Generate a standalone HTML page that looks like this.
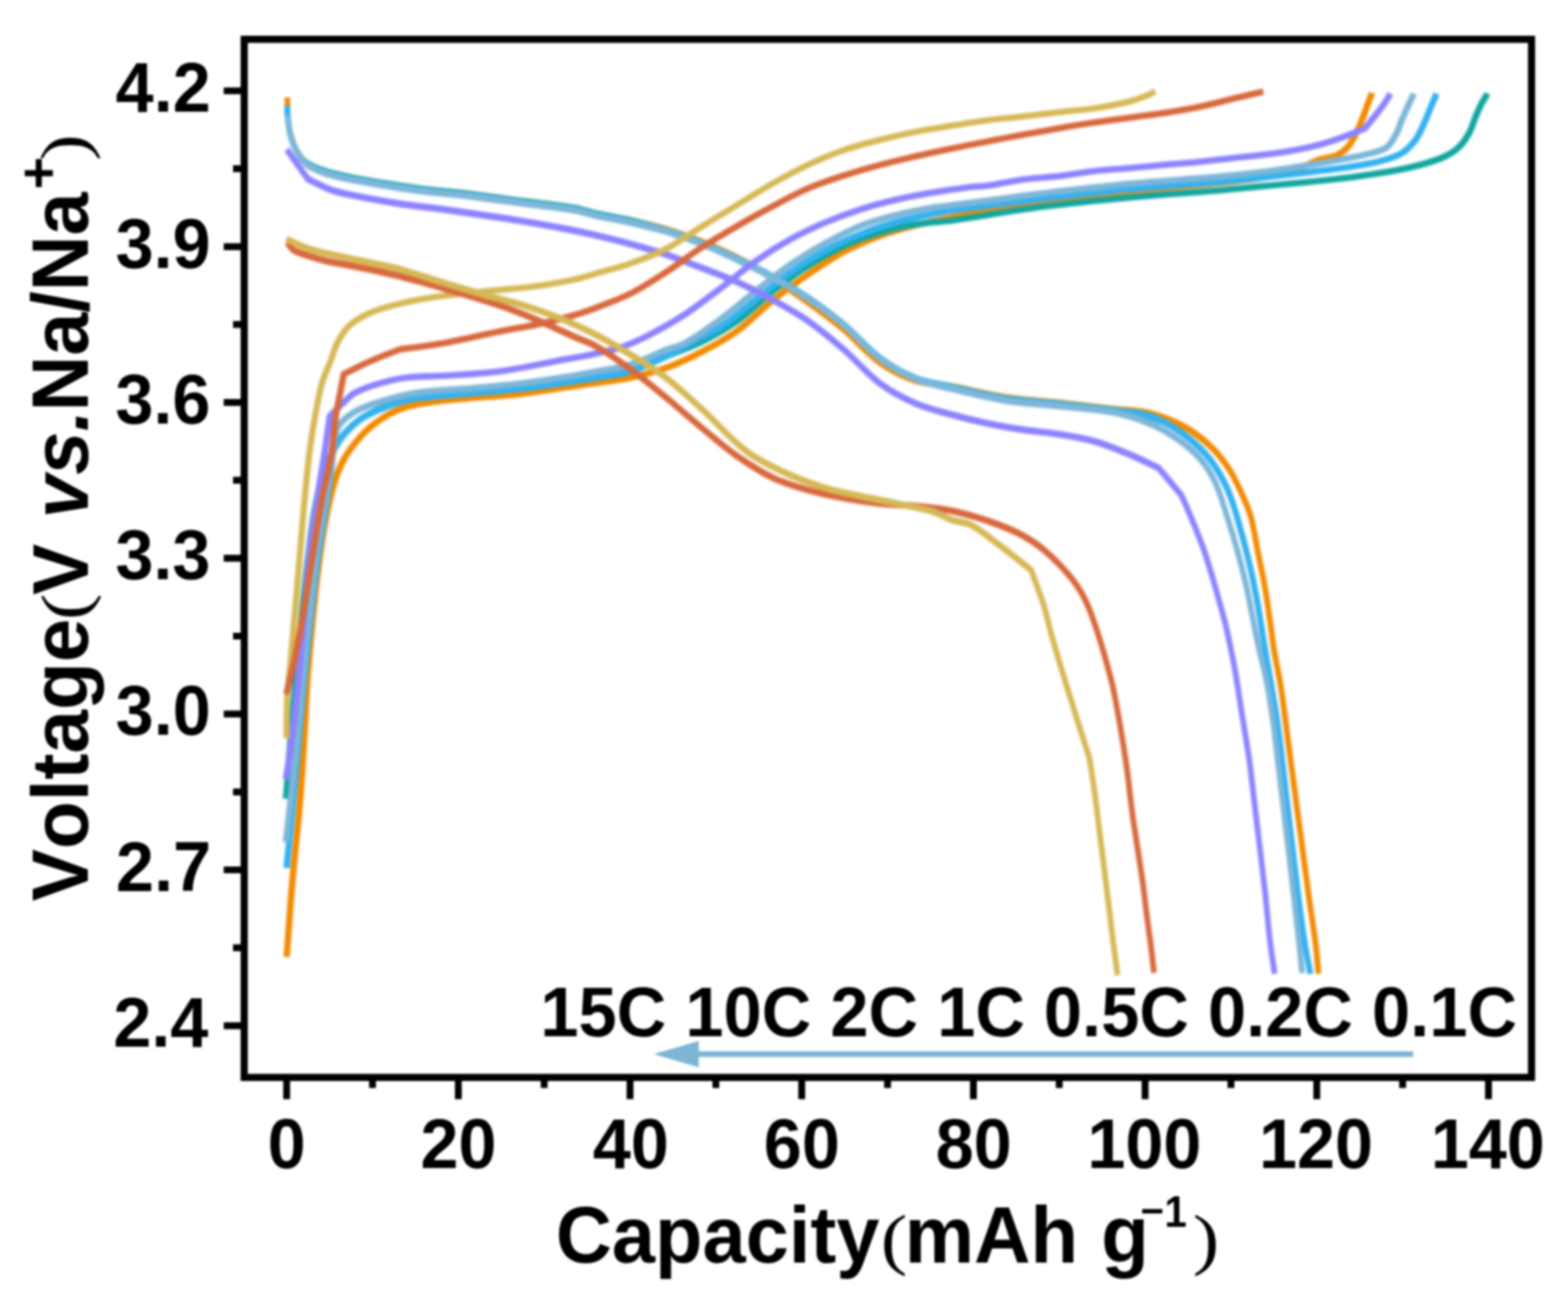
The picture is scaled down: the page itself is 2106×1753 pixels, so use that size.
<!DOCTYPE html>
<html lang="en"><head><meta charset="utf-8"><title>Rate performance: voltage vs capacity</title>
<style>
html,body{margin:0;padding:0;background:#fff;}
body{width:2106px;height:1753px;overflow:hidden;}
svg{display:block;filter:blur(1.6px);}
text{font-family:"Liberation Sans",sans-serif;font-weight:700;fill:#000;font-kerning:none;}
.it{font-style:italic;}
.pr{font-family:"Liberation Serif",serif;font-weight:400;}
.cv path{fill:none;stroke-linejoin:round;stroke-linecap:butt;}
</style></head><body>
<svg xmlns="http://www.w3.org/2000/svg" width="2106" height="1753" viewBox="0 0 2106 1753">
<rect x="0" y="0" width="2106" height="1753" fill="#fff"/>
<g class="cv" stroke-width="8.6" style="filter:blur(0.90px)">
<path transform="scale(1 1.2105)" d="M386.0 108.2C386.2 114.8 385.9 121.5 386.5 128.0C387.1 134.4 387.9 140.9 389.5 147.0C390.7 151.9 393.2 156.4 395.0 161.1C395.2 161.7 395.1 162.4 395.5 163.0C398.7 167.6 401.7 172.7 405.8 176.6C409.0 179.6 413.1 181.9 417.2 183.6C424.5 186.7 432.3 189.1 440.0 191.0C451.3 193.8 462.9 195.7 474.4 197.6C489.5 200.1 504.8 202.2 520.0 204.2C535.3 206.3 550.6 208.3 566.0 209.9C587.1 212.1 608.4 213.4 629.5 215.5C653.4 217.9 677.2 220.8 701.0 223.4C724.8 226.0 748.7 227.9 772.4 231.2C781.7 232.5 790.7 235.5 800.0 237.2C815.8 240.1 831.8 242.1 847.6 245.0C863.5 248.0 879.5 251.0 895.2 254.8C911.3 258.8 927.2 263.5 942.9 268.6C959.0 273.9 974.9 279.7 990.5 286.3C1006.6 293.1 1022.5 300.7 1038.0 308.8C1054.2 317.2 1070.0 326.3 1085.7 335.7C1101.8 345.3 1117.9 355.0 1133.3 365.6C1149.7 377.0 1164.0 391.7 1181.0 401.7C1195.7 410.5 1212.1 417.4 1228.6 422.0C1243.9 426.3 1260.4 426.1 1276.2 428.6C1301.3 432.5 1326.2 438.0 1351.4 441.2C1375.1 444.2 1399.1 445.0 1422.9 447.2C1446.7 449.3 1470.5 451.8 1494.3 454.0C1510.2 455.5 1526.4 455.2 1542.0 458.3C1558.2 461.6 1574.4 466.5 1589.5 473.1C1602.2 478.6 1614.2 486.4 1625.2 494.7C1634.0 501.4 1641.9 509.7 1649.0 518.3C1655.4 526.1 1660.7 535.0 1665.7 543.9C1671.0 553.4 1676.5 563.1 1680.0 573.3C1684.4 586.0 1686.3 599.6 1689.5 612.7C1692.7 625.8 1696.2 638.8 1699.0 652.0C1701.8 665.1 1703.9 678.3 1706.2 691.4C1707.9 701.1 1709.1 710.8 1711.0 720.3C1713.8 734.6 1717.8 748.6 1720.5 762.8C1724.2 782.4 1726.8 802.2 1730.0 821.9C1733.2 841.5 1736.3 861.2 1739.5 880.9C1742.7 900.5 1745.8 920.2 1749.0 939.8C1752.2 959.5 1755.3 979.1 1758.6 998.7C1761.3 1015.0 1764.5 1031.2 1767.0 1047.5C1768.7 1058.4 1769.7 1069.5 1771.0 1080.5" stroke="#f28a00" stroke-width="7.6"/>
<path d="M385.0 1285.5C387.6 1250.8 389.9 1216.0 392.9 1181.3C395.8 1147.7 399.9 1114.2 402.6 1080.6C405.1 1050.4 406.8 1020.2 408.7 990.0C410.3 964.1 411.2 938.1 413.0 912.2C414.8 887.0 417.1 861.8 419.6 836.7C422.0 811.5 424.5 786.4 427.8 761.3C430.5 740.3 433.4 719.2 437.4 698.4C440.6 681.5 444.2 664.4 449.2 648.0C452.6 636.7 457.1 625.6 462.8 615.3C467.7 606.3 474.4 598.1 481.0 590.2C486.3 583.9 492.2 577.9 498.6 572.7C506.0 566.7 514.0 561.2 522.4 556.6C529.9 552.5 538.0 548.9 546.2 546.5C557.8 543.2 570.0 541.4 582.0 539.7C597.7 537.5 613.7 536.4 629.5 535.0C653.3 532.8 677.3 531.7 701.0 528.9C724.9 526.1 748.6 521.9 772.4 518.4C781.6 517.1 790.8 515.9 800.0 514.5C815.9 512.1 831.9 510.6 847.6 507.2C863.7 503.7 879.8 499.6 895.2 494.0C911.5 488.0 927.5 480.5 942.9 472.4C959.2 463.8 975.6 455.0 990.5 444.2C1007.3 431.9 1021.7 416.3 1038.0 403.2C1053.4 390.9 1069.4 379.3 1085.7 368.2C1101.2 357.6 1116.8 346.9 1133.3 338.1C1148.6 329.9 1164.7 323.1 1181.0 317.1C1196.5 311.4 1212.6 307.1 1228.6 302.9C1244.3 298.8 1260.3 295.6 1276.2 292.1C1284.1 290.4 1292.0 288.8 1300.0 287.4C1333.0 281.5 1365.8 274.6 1399.0 270.0C1438.5 264.5 1478.3 261.0 1518.0 257.0C1557.6 253.0 1597.4 250.1 1637.0 246.0C1658.1 243.8 1679.2 241.6 1700.0 238.0C1713.5 235.6 1727.0 232.3 1740.0 228.0C1751.1 224.4 1761.4 218.2 1772.4 214.3C1779.8 211.7 1788.2 211.8 1795.2 208.6C1800.9 206.0 1806.4 201.8 1810.5 197.1C1815.3 191.6 1818.6 184.7 1821.9 178.1C1825.6 170.7 1828.4 162.9 1831.4 155.2C1833.4 150.2 1835.1 145.1 1837.0 140.0C1838.9 134.9 1840.9 129.9 1842.9 124.8" stroke="#f28a00"/>
<path transform="scale(1 1.2105)" d="M386.0 117.3C386.1 121.2 385.9 125.0 386.4 128.9C387.1 135.2 388.0 141.7 389.6 147.9C391.0 153.1 392.9 158.3 395.5 163.0C398.3 167.9 401.7 172.7 405.8 176.6C409.0 179.6 413.1 181.9 417.2 183.6C424.5 186.7 432.3 189.1 440.0 191.0C451.3 193.8 462.9 195.7 474.4 197.6C489.5 200.1 504.8 202.2 520.0 204.2C535.3 206.3 550.6 208.3 566.0 209.9C587.1 212.1 608.4 213.4 629.5 215.5C653.4 217.9 677.2 220.8 701.0 223.4C724.8 226.0 748.7 227.9 772.4 231.2C781.7 232.5 790.7 235.5 800.0 237.2C815.8 240.1 831.8 241.9 847.6 245.0C863.6 248.2 879.5 251.9 895.2 256.0C911.2 260.1 927.2 264.7 942.9 269.9C959.0 275.2 974.7 281.4 990.5 287.6C1006.4 293.8 1022.4 300.1 1038.0 307.2C1054.1 314.6 1070.2 322.2 1085.7 330.8C1102.0 339.9 1118.0 349.6 1133.3 360.2C1149.8 371.6 1164.1 386.3 1181.0 396.8C1195.8 406.1 1212.1 413.8 1228.6 419.5C1243.8 424.7 1260.3 426.3 1276.2 429.3C1301.2 433.9 1326.2 439.2 1351.4 442.5C1375.1 445.5 1399.1 446.3 1422.9 448.4C1446.7 450.5 1470.5 452.6 1494.3 455.3C1510.2 457.0 1526.5 458.0 1542.0 461.7C1554.3 464.6 1566.4 469.2 1577.6 475.0C1590.2 481.5 1602.4 489.6 1613.3 498.6C1622.2 506.0 1630.2 514.9 1637.0 524.2C1643.7 533.3 1649.2 543.4 1653.8 553.7C1659.5 566.4 1663.6 579.8 1668.0 593.0C1672.3 606.0 1676.4 619.2 1680.0 632.4C1683.6 645.3 1686.7 658.5 1689.5 671.6C1693.0 687.8 1695.7 704.1 1699.0 720.3C1704.5 747.6 1711.0 774.7 1715.7 802.1C1721.3 834.8 1725.2 867.7 1730.0 900.4C1734.8 933.2 1739.3 966.0 1744.3 998.7C1746.8 1015.0 1749.5 1031.3 1752.6 1047.5C1754.7 1058.6 1757.5 1069.5 1760.0 1080.5" stroke="#12a5a0" stroke-width="7.6"/>
<path d="M384.2 1073.0C386.0 1048.7 387.8 1024.3 389.7 1000.0C392.0 971.7 394.4 943.3 397.0 915.0C399.2 890.0 401.6 865.0 404.2 840.0C406.9 813.3 409.5 786.6 412.6 760.0C415.4 736.6 417.9 713.2 421.8 690.0C424.7 673.2 427.9 656.2 433.0 640.0C436.9 627.6 442.6 615.6 448.6 604.1C452.6 596.5 457.2 589.1 462.9 582.7C469.9 574.8 477.8 567.0 486.7 561.2C497.7 554.1 510.1 548.6 522.4 543.9C533.9 539.5 545.9 535.9 558.0 534.0C581.6 530.4 605.6 529.3 629.5 527.3C653.3 525.3 677.2 524.4 701.0 521.9C724.9 519.3 748.6 515.5 772.4 512.1C781.6 510.8 790.8 509.4 800.0 507.8C815.9 505.0 832.3 503.5 847.6 498.8C864.0 493.7 879.3 485.2 895.2 478.5C911.1 471.8 927.5 466.4 942.9 458.8C959.3 450.7 975.6 441.7 990.5 431.1C1007.3 419.2 1021.7 403.8 1038.0 391.0C1053.4 379.0 1069.2 367.4 1085.7 356.9C1101.0 347.1 1116.9 337.9 1133.3 330.3C1148.6 323.1 1164.8 317.5 1181.0 312.6C1196.6 307.9 1212.6 304.3 1228.6 301.6C1245.6 298.7 1262.9 298.3 1280.0 295.9C1319.7 290.4 1359.2 282.9 1399.0 277.8C1438.6 272.7 1478.3 268.9 1518.0 265.2C1557.6 261.5 1597.4 259.1 1637.0 255.7C1658.0 253.9 1679.0 251.7 1700.0 249.7C1719.0 247.9 1738.0 246.4 1757.0 244.5C1776.1 242.6 1795.2 240.7 1814.3 238.2C1833.4 235.7 1852.5 233.0 1871.4 229.6C1884.2 227.3 1897.0 224.5 1909.5 221.0C1919.8 218.1 1930.4 215.1 1940.0 210.5C1947.2 207.1 1954.3 202.6 1960.0 197.1C1965.5 191.8 1969.8 184.9 1973.5 178.1C1977.4 170.9 1979.3 162.7 1982.5 155.2C1985.0 149.4 1987.6 143.7 1990.5 138.1C1992.8 133.8 1995.5 129.8 1998.0 125.7" stroke="#12a5a0"/>
<path transform="scale(1 1.2105)" d="M386.0 117.3C386.1 121.2 385.9 125.0 386.4 128.9C387.1 135.2 388.0 141.7 389.6 147.9C391.0 153.1 392.9 158.3 395.5 163.0C398.3 168.0 401.7 173.1 405.8 177.1C409.0 180.3 413.1 182.9 417.2 184.7C424.5 187.9 432.2 190.3 440.0 192.2C451.3 195.0 462.9 196.9 474.4 198.8C489.5 201.3 504.8 203.4 520.0 205.4C535.3 207.5 550.6 209.6 566.0 211.1C587.1 213.3 608.4 214.7 629.5 216.8C653.4 219.1 677.2 222.0 701.0 224.6C724.8 227.2 748.7 229.2 772.4 232.5C781.7 233.8 790.7 236.7 800.0 238.4C815.8 241.3 831.8 243.3 847.6 246.3C863.5 249.2 879.5 252.2 895.2 256.1C911.3 260.1 927.2 264.7 942.9 269.9C959.0 275.2 974.7 281.4 990.5 287.6C1006.4 293.8 1022.4 300.1 1038.0 307.2C1054.1 314.6 1070.2 322.2 1085.7 330.8C1102.0 339.9 1118.0 349.6 1133.3 360.2C1149.8 371.6 1164.1 386.3 1181.0 396.8C1195.8 406.1 1212.1 413.9 1228.6 419.5C1243.8 424.6 1260.3 426.1 1276.2 429.1C1301.2 433.8 1326.2 439.1 1351.4 442.5C1375.1 445.6 1399.1 446.3 1422.9 448.4C1446.7 450.5 1470.5 452.7 1494.3 455.3C1510.2 456.9 1526.5 457.3 1542.0 461.0C1554.3 463.9 1566.4 469.1 1577.6 475.0C1590.1 481.6 1602.4 489.6 1613.3 498.6C1622.2 506.0 1630.2 514.9 1637.0 524.2C1643.7 533.3 1649.2 543.4 1653.8 553.7C1659.5 566.4 1663.6 579.8 1668.0 593.0C1672.3 606.0 1676.4 619.2 1680.0 632.4C1683.6 645.3 1686.7 658.5 1689.5 671.6C1693.0 687.8 1695.7 704.1 1699.0 720.3C1704.5 747.6 1711.0 774.7 1715.7 802.1C1721.3 834.8 1725.2 867.7 1730.0 900.4C1734.8 933.2 1739.3 966.0 1744.3 998.7C1746.8 1015.0 1749.5 1031.3 1752.6 1047.5C1754.7 1058.6 1757.5 1069.5 1760.0 1080.5" stroke="#33b1f2" stroke-width="7.6"/>
<path d="M384.8 1166.0C387.7 1137.3 390.8 1108.7 393.5 1080.0C396.4 1050.0 398.8 1020.0 401.5 990.0C403.9 963.3 406.2 936.6 408.8 910.0C411.5 883.3 414.3 856.6 417.2 830.0C420.2 803.3 423.1 776.6 426.7 750.0C429.9 726.6 434.0 703.3 437.6 680.0C440.1 663.3 442.6 646.7 445.0 630.0C446.3 621.2 445.6 611.7 448.6 603.6C451.5 595.8 457.2 588.5 462.9 582.2C469.9 574.5 477.9 567.1 486.7 561.7C497.7 554.8 510.1 549.7 522.4 545.2C533.9 541.0 545.9 537.5 558.0 535.6C581.6 532.0 605.7 530.9 629.5 528.6C653.3 526.4 677.2 524.9 701.0 522.1C724.9 519.3 748.6 515.4 772.4 511.8C781.6 510.4 790.8 508.9 800.0 507.3C815.9 504.4 832.3 503.0 847.6 498.3C864.0 493.2 879.7 485.4 895.2 478.0C908.2 471.8 920.5 464.1 933.3 457.3C944.3 451.5 956.4 447.3 966.7 440.4C983.4 429.3 998.4 415.6 1014.3 403.1C1030.2 390.7 1045.4 377.5 1061.9 365.9C1077.2 355.1 1093.1 345.1 1109.5 336.2C1124.8 327.8 1140.8 320.4 1157.0 313.9C1172.6 307.6 1188.6 302.5 1204.8 298.0C1220.4 293.7 1236.5 290.8 1252.4 287.5C1261.6 285.6 1270.7 283.9 1280.0 282.6C1319.6 277.1 1359.3 271.9 1399.0 267.1C1438.6 262.3 1478.3 257.8 1518.0 254.0C1557.6 250.2 1597.4 248.0 1637.0 244.5C1658.0 242.7 1679.0 240.4 1700.0 238.1C1719.0 236.0 1738.0 233.8 1757.0 231.4C1776.1 229.0 1795.3 226.8 1814.3 223.9C1827.1 221.9 1839.9 220.0 1852.4 216.8C1862.2 214.3 1872.4 211.7 1881.0 206.8C1888.3 202.6 1894.7 196.1 1900.0 189.5C1904.9 183.4 1908.0 175.7 1911.4 168.6C1915.0 161.1 1917.8 153.3 1921.0 145.7C1923.8 139.0 1926.7 132.4 1929.5 125.7" stroke="#33b1f2"/>
<path transform="scale(1 1.2105)" d="M386.3 128.0C387.4 134.9 387.9 142.0 389.7 148.7C391.0 153.6 393.0 158.5 395.5 163.0C398.4 168.1 401.7 173.3 405.8 177.5C409.0 180.8 413.0 183.5 417.2 185.4C424.4 188.7 432.2 191.1 440.0 193.1C451.3 195.9 462.9 197.8 474.4 199.7C489.5 202.2 504.8 204.2 520.0 206.3C535.3 208.3 550.6 210.4 566.0 212.0C587.1 214.2 608.4 215.5 629.5 217.6C653.4 220.0 677.2 222.8 701.0 225.4C724.8 228.1 748.7 230.0 772.4 233.3C781.7 234.6 790.7 237.5 800.0 239.2C815.8 242.1 831.8 244.1 847.6 247.1C863.5 250.0 879.5 253.0 895.2 256.9C911.3 260.9 927.2 265.5 942.9 270.7C959.0 276.0 974.7 282.2 990.5 288.4C1006.4 294.6 1022.4 301.0 1038.0 308.0C1054.1 315.4 1070.2 323.1 1085.7 331.7C1102.0 340.7 1118.0 350.4 1133.3 361.0C1149.8 372.4 1164.1 387.1 1181.0 397.7C1195.8 406.9 1212.1 414.5 1228.6 420.3C1243.9 425.6 1260.3 427.8 1276.2 430.9C1301.2 435.8 1326.2 441.2 1351.4 444.5C1375.1 447.7 1399.1 448.3 1422.9 450.5C1446.7 452.6 1470.7 453.6 1494.3 457.3C1510.4 459.9 1526.5 464.0 1542.0 469.1C1554.3 473.2 1566.3 478.6 1577.6 484.9C1588.7 491.1 1599.8 497.9 1609.1 506.4C1617.8 514.3 1625.6 523.9 1631.5 534.1C1638.6 546.2 1643.0 560.1 1648.2 573.3C1653.3 586.3 1658.1 599.5 1662.5 612.7C1666.8 625.7 1670.8 638.8 1674.4 652.0C1677.9 665.1 1680.7 678.3 1683.9 691.4C1686.2 701.1 1688.4 710.8 1691.0 720.3C1693.9 731.3 1697.9 742.0 1700.5 753.0C1704.3 769.2 1707.3 785.7 1710.1 802.1C1712.9 818.5 1714.8 835.0 1717.2 851.4C1719.6 867.7 1722.0 884.1 1724.4 900.4C1726.8 916.8 1729.2 933.3 1731.5 949.7C1733.8 966.0 1736.1 982.4 1738.4 998.7C1740.6 1015.0 1742.7 1031.2 1744.9 1047.5C1746.3 1058.2 1747.7 1069.0 1749.0 1079.7" stroke="#7db6d8" stroke-width="7.6"/>
<path d="M384.0 1131.0C386.7 1107.3 389.5 1083.7 392.1 1060.0C395.0 1033.3 397.7 1006.7 400.3 980.0C402.9 953.3 405.0 926.6 407.6 900.0C410.3 873.3 413.3 846.7 416.3 820.0C419.3 793.3 422.0 766.6 425.8 740.0C429.1 716.6 433.6 693.3 437.4 670.0C440.7 650.0 443.7 630.0 447.0 610.0C449.0 598.3 448.3 585.1 453.3 575.0C457.5 566.5 466.5 559.3 474.8 554.1C485.5 547.5 498.3 543.5 510.5 539.6C526.0 534.7 541.9 530.4 558.0 527.9C581.6 524.4 605.7 523.9 629.5 521.8C653.3 519.6 677.2 517.9 701.0 515.0C724.9 512.1 748.6 508.1 772.4 504.4C781.6 502.9 790.8 501.0 800.0 499.2C815.9 496.1 832.2 494.4 847.6 489.7C863.9 484.6 879.2 476.1 895.2 469.8C903.0 466.7 911.7 465.7 919.0 461.6C935.6 452.3 951.3 441.0 966.7 429.7C983.1 417.7 998.3 404.2 1014.3 391.7C1030.0 379.4 1045.5 366.6 1061.9 355.3C1077.2 344.8 1093.2 335.2 1109.5 326.2C1124.9 317.7 1140.7 309.4 1157.0 302.9C1172.4 296.8 1188.7 292.6 1204.8 288.6C1220.5 284.7 1236.5 281.8 1252.4 279.0C1261.5 277.4 1270.8 276.7 1280.0 275.5C1319.7 270.4 1359.3 264.8 1399.0 260.0C1438.6 255.2 1478.3 250.7 1518.0 246.9C1557.6 243.1 1597.4 241.0 1637.0 237.4C1658.0 235.5 1679.1 233.2 1700.0 230.5C1719.1 228.0 1738.0 224.9 1757.0 221.9C1769.8 219.9 1782.5 217.7 1795.2 215.3C1807.9 213.0 1820.8 211.0 1833.3 207.8C1843.0 205.3 1853.9 203.6 1861.9 198.3C1867.9 194.4 1871.5 186.6 1875.2 180.2C1878.5 174.2 1880.2 167.4 1882.9 161.0C1885.3 155.2 1887.9 149.5 1890.5 143.8C1893.3 137.7 1896.2 131.7 1899.0 125.7" stroke="#7db6d8"/>
<path transform="scale(1 1.2105)" d="M385.2 165.8C389.8 171.1 394.3 176.5 398.9 181.8C403.8 187.5 408.8 193.2 413.8 198.8C424.5 202.9 434.9 207.9 445.8 211.1C455.1 213.9 464.8 215.3 474.4 216.8C493.4 220.0 512.5 222.9 531.6 225.4C554.3 228.3 577.2 230.3 600.0 232.9C609.8 234.0 619.7 235.2 629.5 236.4C653.3 239.4 677.2 242.1 701.0 245.3C720.9 247.9 740.7 250.9 760.5 254.1C773.7 256.2 786.9 258.5 800.0 261.0C815.9 264.1 831.8 267.3 847.6 270.9C863.5 274.5 879.5 278.2 895.2 282.6C911.2 287.1 927.0 292.3 942.9 297.4C958.8 302.5 974.9 307.3 990.5 313.1C1006.6 319.1 1022.4 325.7 1038.0 332.8C1054.1 340.2 1070.4 347.5 1085.7 356.4C1102.1 365.9 1117.9 376.8 1133.3 387.8C1149.6 399.6 1164.0 414.3 1181.0 424.9C1195.8 434.1 1212.2 441.3 1228.6 447.3C1243.9 452.9 1260.2 456.1 1276.2 459.7C1293.2 463.6 1310.4 467.0 1327.6 470.0C1343.4 472.8 1359.3 475.0 1375.2 477.0C1391.1 479.0 1407.1 479.8 1422.9 481.9C1438.8 484.1 1454.9 486.1 1470.5 489.8C1486.6 493.6 1502.3 499.2 1518.0 504.6C1530.9 509.0 1543.5 514.4 1556.2 519.3C1566.5 529.4 1576.7 539.6 1587.0 549.8C1591.8 559.0 1596.8 568.0 1601.4 577.4C1607.2 589.0 1613.0 600.7 1618.0 612.7C1623.3 625.6 1627.8 638.9 1632.4 652.0C1636.5 663.8 1640.5 675.6 1644.3 687.5C1646.0 692.9 1647.6 698.3 1649.0 703.8C1652.4 716.9 1655.8 730.0 1658.6 743.1C1662.1 759.4 1664.8 775.9 1668.0 792.2C1671.2 808.7 1674.8 825.0 1677.6 841.5C1680.4 857.9 1682.4 874.3 1684.8 890.7C1687.2 907.1 1689.6 923.5 1692.0 939.8C1694.4 956.2 1696.8 972.6 1699.0 989.0C1701.6 1008.5 1703.4 1028.0 1706.2 1047.5C1707.8 1058.5 1710.1 1069.5 1712.0 1080.5" stroke="#8c82ff" stroke-width="7.6"/>
<path d="M384.0 1047.0C386.7 1028.9 389.7 1010.8 392.0 992.6C395.4 965.8 398.3 938.9 401.0 912.0C403.5 886.9 405.7 861.8 407.8 836.7C410.3 807.4 411.7 777.9 414.9 748.7C417.6 723.4 421.8 698.2 425.6 673.0C428.8 652.0 432.5 631.0 435.7 610.0C438.3 593.0 440.6 576.0 443.0 559.0C449.6 552.4 456.1 545.6 462.9 539.3C467.4 535.1 471.6 530.2 477.0 527.4C487.5 522.0 499.1 518.2 510.5 514.9C522.2 511.5 534.1 508.6 546.2 507.2C565.9 505.1 585.9 505.7 605.7 504.3C629.5 502.6 653.4 501.1 677.0 497.9C701.0 494.6 724.7 489.1 748.6 484.7C765.1 481.6 781.6 479.0 798.0 475.5C810.7 472.8 823.5 470.3 835.7 466.1C848.0 461.9 859.9 456.3 871.4 450.3C887.6 441.9 903.7 432.9 919.0 422.9C935.4 412.2 951.0 400.0 966.7 388.1C982.7 376.1 997.9 362.8 1014.3 351.3C1029.6 340.5 1045.5 330.4 1061.9 321.3C1077.3 312.8 1093.3 305.3 1109.5 298.4C1125.0 291.8 1140.9 285.9 1157.0 280.8C1172.7 275.8 1188.7 271.7 1204.8 268.0C1220.5 264.3 1236.5 261.5 1252.4 258.8C1268.2 256.1 1284.1 253.7 1300.0 251.7C1309.2 250.5 1318.5 250.6 1327.6 249.3C1343.5 247.0 1359.3 243.1 1375.2 241.0C1391.0 238.9 1407.0 238.3 1422.9 236.5C1438.8 234.6 1454.6 231.6 1470.5 229.8C1486.3 228.0 1502.2 227.1 1518.0 225.7C1533.9 224.3 1549.8 222.7 1565.7 221.3C1581.6 219.9 1597.5 218.8 1613.3 217.2C1629.2 215.6 1645.1 213.5 1661.0 211.7C1674.0 210.3 1687.0 209.3 1700.0 207.6C1712.7 206.0 1725.4 204.3 1738.0 201.9C1750.8 199.5 1763.6 196.7 1776.2 193.3C1785.9 190.7 1795.4 187.3 1804.8 183.8C1814.4 180.3 1823.8 176.2 1833.3 172.4C1838.4 166.0 1843.6 159.7 1848.6 153.3C1852.5 148.3 1856.4 143.3 1860.0 138.1C1862.7 134.1 1865.1 129.8 1867.6 125.7" stroke="#8c82ff"/>
<path d="M384.8 991.5C385.1 973.5 384.8 955.4 385.8 937.4C386.7 920.6 388.9 903.8 390.4 887.0C393.4 853.5 396.4 819.9 399.3 786.4C402.2 752.9 404.6 719.3 407.7 685.8C410.0 660.5 412.3 635.2 415.4 610.0C417.3 594.3 419.8 578.6 422.5 563.0C425.4 547.1 427.9 531.0 432.2 515.5C435.1 505.0 440.1 495.2 444.0 485.0C446.9 477.2 449.1 469.1 452.6 461.6C455.4 455.6 459.0 449.8 463.0 444.5C466.3 440.2 470.0 436.1 474.4 433.0C481.5 428.0 489.3 423.5 497.3 420.2C508.3 415.6 520.0 412.3 531.6 409.3C542.9 406.2 554.5 403.9 566.0 401.8C577.3 399.8 588.6 398.3 600.0 396.9C617.7 394.7 635.5 392.9 653.3 391.1C677.1 388.6 701.1 386.9 724.8 383.8C740.8 381.6 756.6 378.5 772.4 375.2C781.7 373.2 790.8 370.3 800.0 367.7C815.9 363.1 832.0 359.1 847.6 353.6C863.8 347.9 880.0 341.9 895.2 334.0C911.8 325.4 926.9 314.0 942.9 304.1C958.7 294.3 974.6 284.7 990.5 275.0C1006.3 265.5 1021.9 255.5 1038.0 246.4C1053.6 237.6 1069.5 229.0 1085.7 221.3C1101.2 214.0 1117.1 207.2 1133.3 201.6C1148.9 196.2 1165.0 192.1 1181.0 188.1C1196.8 184.1 1212.7 180.5 1228.6 177.3C1244.4 174.2 1260.3 171.8 1276.2 169.2C1293.3 166.4 1310.4 163.5 1327.6 161.3C1343.4 159.2 1359.3 158.1 1375.2 156.3C1391.1 154.6 1407.0 152.5 1422.9 150.7C1438.8 148.9 1454.7 147.9 1470.5 145.5C1486.4 143.0 1502.4 140.0 1518.0 136.1C1526.2 134.0 1534.2 130.8 1542.0 127.6C1545.3 126.3 1548.3 124.2 1551.4 122.5" stroke="#d6b856" stroke-width="8.3"/>
<path d="M384.6 932.5C388.2 917.3 392.2 902.3 395.4 887.0C399.8 866.1 403.6 845.1 407.3 824.0C411.7 799.0 415.3 773.8 419.4 748.7C423.5 723.5 427.2 698.3 431.9 673.2C435.8 652.1 441.8 631.4 445.3 610.3C448.1 593.7 448.4 576.7 450.8 560.0C452.3 549.1 454.9 538.3 457.0 527.4C458.6 519.1 460.1 510.7 461.7 502.4C474.0 496.5 486.1 490.1 498.6 484.6C511.5 479.0 524.9 474.3 538.0 469.1C547.3 467.9 556.7 466.8 566.0 465.5C577.4 463.8 588.7 462.4 600.0 460.2C625.7 455.3 651.3 449.2 677.0 444.0C692.9 440.9 709.0 438.7 724.8 435.2C740.8 431.7 756.7 427.5 772.4 423.0C781.7 420.3 790.9 417.1 800.0 413.7C816.0 407.5 832.3 401.8 847.6 394.0C864.1 385.6 879.7 375.3 895.2 365.2C911.4 354.6 926.6 342.5 942.9 332.0C958.4 321.9 974.5 312.7 990.5 303.5C1006.2 294.4 1022.0 285.5 1038.0 277.0C1053.7 268.6 1069.4 259.9 1085.7 252.9C1101.1 246.2 1117.3 241.0 1133.3 235.8C1149.0 230.7 1165.0 226.1 1181.0 221.9C1196.8 217.6 1212.7 214.0 1228.6 210.3C1244.4 206.7 1260.3 203.3 1276.2 200.0C1293.3 196.4 1310.5 193.1 1327.6 189.8C1343.5 186.7 1359.3 183.6 1375.2 180.7C1391.1 177.8 1407.0 174.9 1422.9 172.2C1438.7 169.5 1454.6 166.9 1470.5 164.6C1486.3 162.2 1502.2 160.2 1518.0 158.0C1533.9 155.8 1549.8 153.9 1565.7 151.5C1581.6 149.0 1597.5 146.4 1613.3 143.0C1629.3 139.7 1645.1 135.2 1661.0 131.4C1672.9 128.6 1684.8 125.9 1696.7 123.1" stroke="#d7683c"/>
<path transform="scale(1 1.2105)" d="M385.5 268.9C388.4 271.7 390.8 275.5 394.3 277.4C399.5 280.3 405.7 281.7 411.5 283.3C420.9 285.9 430.4 288.2 440.0 290.0C451.4 292.2 463.0 293.3 474.4 295.3C493.5 298.5 512.6 301.6 531.6 305.5C554.5 310.2 577.3 315.5 600.0 320.9C625.7 327.2 651.5 333.4 677.0 340.7C693.1 345.3 709.0 350.8 724.8 356.4C740.8 362.0 756.5 368.3 772.4 374.1C781.6 377.5 791.2 379.9 800.0 384.1C816.3 391.9 832.1 400.8 847.6 410.2C863.9 420.0 879.5 430.9 895.2 441.6C911.2 452.5 926.9 464.1 942.9 475.0C958.6 485.7 974.1 496.9 990.5 506.4C1005.8 515.2 1021.6 523.6 1038.0 530.1C1053.3 536.1 1069.6 540.1 1085.7 543.9C1101.4 547.6 1117.4 550.2 1133.3 552.7C1149.1 555.1 1165.1 557.1 1181.0 558.6C1196.8 560.1 1212.8 560.3 1228.6 561.6C1244.5 562.9 1260.5 563.9 1276.2 566.5C1293.5 569.4 1310.7 573.4 1327.6 578.3C1343.7 582.9 1360.0 588.0 1375.2 595.0C1387.8 600.8 1400.0 608.2 1411.0 616.7C1423.8 626.6 1436.3 637.8 1446.7 650.1C1454.5 659.4 1460.8 670.4 1465.7 681.5C1475.9 704.7 1484.4 728.8 1492.0 753.0C1497.1 769.0 1500.2 785.7 1503.8 802.1C1507.3 818.5 1510.5 834.9 1513.3 851.4C1516.1 867.7 1517.9 884.1 1520.5 900.4C1522.6 913.6 1525.2 926.7 1527.6 939.8C1530.0 952.9 1532.6 966.0 1534.8 979.2C1537.0 992.3 1538.6 1005.4 1540.7 1018.6C1542.2 1028.2 1544.0 1037.8 1545.5 1047.5C1547.1 1058.2 1548.5 1069.0 1550.0 1079.7" stroke="#d7683c" stroke-width="7.6"/>
<path transform="scale(1 1.2105)" d="M384.6 265.2C395.5 269.1 406.0 274.0 417.2 276.8C436.0 281.5 455.3 284.1 474.4 287.6C493.4 291.1 512.7 293.5 531.6 297.6C554.6 302.7 577.2 309.3 600.0 315.0C617.7 319.4 635.5 323.7 653.3 327.9C669.2 331.5 685.2 334.4 701.0 338.4C717.0 342.4 732.9 346.9 748.6 352.0C764.7 357.3 780.6 363.1 796.2 369.7C813.6 377.1 830.7 385.4 847.6 393.9C863.7 402.0 880.0 410.1 895.2 419.7C911.7 430.1 927.3 442.2 942.9 454.1C959.1 466.5 974.2 480.3 990.5 492.4C998.0 498.0 1005.9 503.2 1014.3 507.3C1029.7 514.9 1045.7 521.5 1061.9 527.4C1077.5 533.0 1093.4 537.9 1109.5 541.9C1125.1 545.8 1141.1 548.1 1157.0 550.9C1172.9 553.7 1188.9 556.0 1204.8 558.8C1220.7 561.6 1236.8 563.7 1252.4 567.5C1261.9 569.9 1270.6 574.7 1280.0 577.4C1287.8 579.6 1296.5 579.1 1303.8 582.3C1316.3 587.7 1327.8 595.9 1339.5 603.2C1354.8 612.6 1369.7 622.6 1384.8 632.4C1390.5 645.4 1396.7 658.3 1401.8 671.6C1405.8 682.1 1408.4 693.2 1412.0 703.8C1416.5 717.0 1421.2 730.1 1426.0 743.1C1432.0 759.5 1438.1 775.9 1444.3 792.2C1450.6 808.7 1457.0 825.1 1463.3 841.5C1465.7 854.6 1468.3 867.7 1470.5 880.9C1472.7 894.0 1474.4 907.1 1476.4 920.3C1478.4 933.3 1480.4 946.4 1482.4 959.5C1484.4 972.6 1486.4 985.7 1488.3 998.7C1490.7 1015.0 1493.0 1031.2 1495.5 1047.5C1497.3 1059.1 1499.2 1070.6 1501.0 1082.2" stroke="#d6b856" stroke-width="7.6"/>
</g>
<g fill="#7db5d6" stroke="none"><rect x="930" y="1412.2" width="968" height="7.6"/><path d="M878 1416L938.5 1398.3L938.5 1433.7Z"/></g>
<rect x="328.0" y="52.8" width="1729.0" height="1394.5" fill="none" stroke="#000" stroke-width="9.6"/>
<path d="M385.0 1447.3V1476.5M615.6 1447.3V1476.5M846.2 1447.3V1476.5M1076.8 1447.3V1476.5M1307.4 1447.3V1476.5M1538.0 1447.3V1476.5M1768.6 1447.3V1476.5M1999.2 1447.3V1476.5M500.3 1447.3V1461.5M730.9 1447.3V1461.5M961.5 1447.3V1461.5M1192.1 1447.3V1461.5M1422.7 1447.3V1461.5M1653.3 1447.3V1461.5M1883.9 1447.3V1461.5M328.0 1377.8H300.5M328.0 1168.5H300.5M328.0 959.2H300.5M328.0 749.9H300.5M328.0 540.6H300.5M328.0 331.3H300.5M328.0 122.0H300.5M328.0 1273.2H313.0M328.0 1063.9H313.0M328.0 854.5H313.0M328.0 645.2H313.0M328.0 435.9H313.0M328.0 226.6H313.0" fill="none" stroke="#000" stroke-width="9.2"/>
<text class="tk" font-size="91.80" transform="translate(359.53 1568.50) scale(1.0000 1.0300)" xml:space="preserve">0</text>
<text class="tk" font-size="91.80" transform="translate(564.77 1568.50) scale(1.0000 1.0300)" xml:space="preserve">20</text>
<text class="tk" font-size="91.80" transform="translate(796.28 1568.50) scale(1.0000 1.0300)" xml:space="preserve">40</text>
<text class="tk" font-size="91.80" transform="translate(1025.85 1568.50) scale(1.0000 1.0300)" xml:space="preserve">60</text>
<text class="tk" font-size="91.80" transform="translate(1256.68 1568.50) scale(1.0000 1.0300)" xml:space="preserve">80</text>
<text class="tk" font-size="91.80" transform="translate(1460.43 1568.50) scale(1.0000 1.0300)" xml:space="preserve">100</text>
<text class="tk" font-size="91.80" transform="translate(1691.03 1568.50) scale(1.0000 1.0300)" xml:space="preserve">120</text>
<text class="tk" font-size="91.80" transform="translate(1921.63 1568.50) scale(1.0000 1.0300)" xml:space="preserve">140</text>
<text class="tk" font-size="91.80" transform="translate(152.16 1406.00) scale(1.0000 1.0300)" xml:space="preserve">2.4</text>
<text class="tk" font-size="91.80" transform="translate(155.83 1196.70) scale(1.0000 1.0300)" xml:space="preserve">2.7</text>
<text class="tk" font-size="91.80" transform="translate(155.37 987.40) scale(1.0000 1.0300)" xml:space="preserve">3.0</text>
<text class="tk" font-size="91.80" transform="translate(154.91 778.10) scale(1.0000 1.0300)" xml:space="preserve">3.3</text>
<text class="tk" font-size="91.80" transform="translate(154.91 568.80) scale(1.0000 1.0300)" xml:space="preserve">3.6</text>
<text class="tk" font-size="91.80" transform="translate(155.14 359.50) scale(1.0000 1.0300)" xml:space="preserve">3.9</text>
<text class="tk" font-size="91.80" transform="translate(155.37 150.20) scale(1.0000 1.0300)" xml:space="preserve">4.2</text>
<text class="tk" font-size="92.20" transform="translate(725.73 1391.80) scale(1.0000 1.0300)" xml:space="preserve">15C 10C 2C 1C 0.5C 0.2C 0.1C</text>
<text class="ax" font-size="104.30" transform="translate(746.54 1695.60) scale(1.0000 1.0300)" xml:space="preserve">Capacity</text>
<text class="pr" font-size="90.50" transform="translate(1183.08 1695.07) scale(1.1800 1.0000)" xml:space="preserve">(</text>
<text class="ax" font-size="105.00" transform="translate(1214.94 1695.60) scale(1.0000 1.0300)" xml:space="preserve">mAh</text>
<text class="ax" font-size="105.00" transform="translate(1478.99 1695.60) scale(1.0000 1.0300)" xml:space="preserve">g</text>
<text class="ax" font-size="54.00" transform="translate(1532.00 1644.95) scale(1.0000 1.0000)" xml:space="preserve">−</text>
<text class="ax" font-size="60.00" transform="translate(1564.07 1647.53) scale(0.9000 1.0000)" xml:space="preserve">1</text>
<text class="pr" font-size="90.50" transform="translate(1601.98 1695.07) scale(1.1800 1.0000)" xml:space="preserve">)</text>
<text class="ax" font-size="105.20" transform="translate(118.20 1210.77) rotate(-90) scale(1.0000 1.0300)" xml:space="preserve">Voltage</text>
<text class="pr" font-size="89.50" transform="translate(117.18 832.88) rotate(-90) scale(1.2000 1.0000)" xml:space="preserve">(</text>
<text class="ax" font-size="103.00" transform="translate(118.20 799.23) rotate(-90) scale(1.0000 1.0300)" xml:space="preserve">V</text>
<text class="ax it" font-size="105.00" transform="translate(118.20 696.45) rotate(-90) scale(1.0000 1.0300)" xml:space="preserve">vs.</text>
<text class="ax" font-size="103.80" transform="translate(118.20 552.70) rotate(-90) scale(1.0000 1.0300)" xml:space="preserve">Na/Na</text>
<text class="ax" font-size="75.00" transform="translate(76.64 254.54) rotate(-90) scale(1.0000 1.0000)" xml:space="preserve">+</text>
<text class="pr" font-size="89.50" transform="translate(116.48 215.92) rotate(-90) scale(1.2000 1.0000)" xml:space="preserve">)</text>
</svg></body></html>
